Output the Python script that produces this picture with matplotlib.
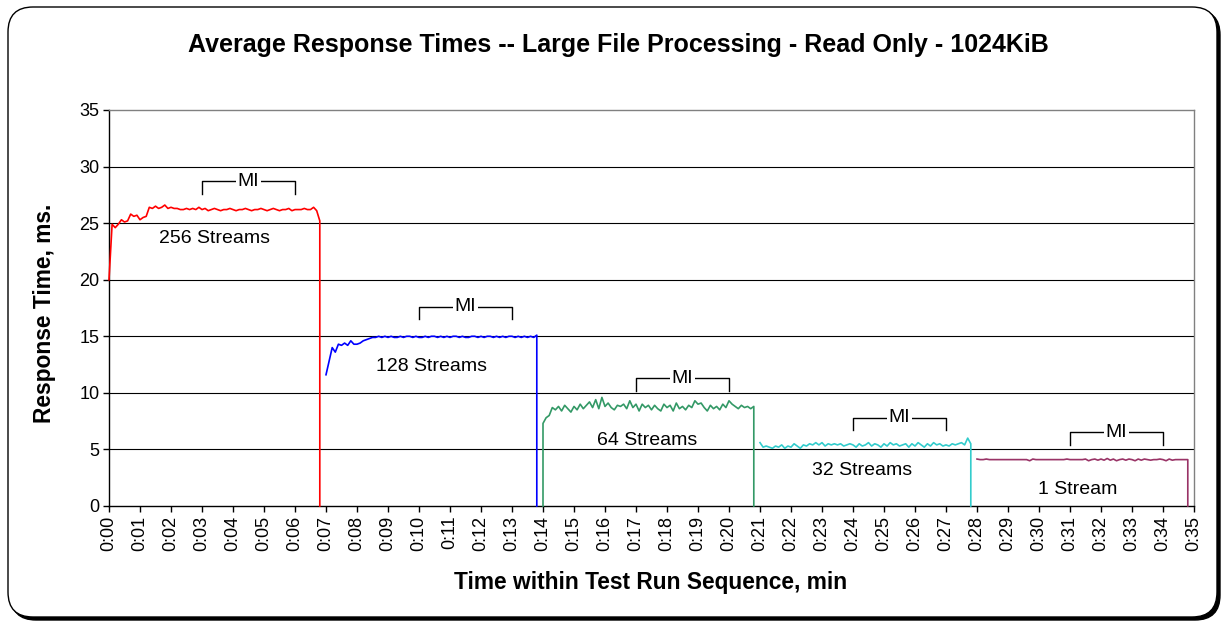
import numpy as np
import matplotlib
matplotlib.use('Agg')
import matplotlib.pyplot as plt
from matplotlib.patches import FancyBboxPatch
from matplotlib.transforms import IdentityTransform

plt.rcParams['font.family'] = ['Liberation Sans', 'DejaVu Sans']

# ---- data (minutes, ms) ----
step = 0.1
series_names = ['256 Streams', '128 Streams', '64 Streams', '32 Streams', '1 Stream']
series_colors = ['#FF0000', '#0000FF', '#339966', '#33CCCC', '#993366']
series_start = [0.0, 7.0, 14.0, 21.0, 28.0]
series_rise_from_zero = [False, False, True, False, False]

rt_256 = [20.0, 24.9, 24.6, 24.9, 25.3, 25.1, 25.2, 25.8, 25.6, 25.7,
          25.3, 25.5, 25.6, 26.4, 26.3, 26.5, 26.3, 26.4, 26.6, 26.3,
          26.4, 26.3, 26.3, 26.2, 26.2, 26.3, 26.2, 26.3, 26.2, 26.4,
          26.2, 26.3, 26.1, 26.2, 26.3, 26.2, 26.1, 26.2, 26.2, 26.3,
          26.2, 26.1, 26.2, 26.2, 26.3, 26.2, 26.1, 26.2, 26.2, 26.3,
          26.2, 26.1, 26.2, 26.3, 26.2, 26.1, 26.2, 26.2, 26.3, 26.1,
          26.2, 26.2, 26.2, 26.3, 26.2, 26.2, 26.4, 26.1, 25.2]
rt_128 = [11.6, 12.8, 14.0, 13.6, 14.3, 14.2, 14.4, 14.2, 14.6, 14.3,
          14.3, 14.4, 14.6, 14.7, 14.8, 14.9, 14.9, 15.0, 14.9, 15.0,
          14.9, 15.0, 14.9, 14.9, 15.0, 14.9, 15.0, 15.0, 14.9, 15.0,
          14.9, 14.9, 15.0, 14.9, 15.0, 15.0, 14.9, 15.0, 14.9, 15.0,
          14.9, 15.0, 15.0, 14.9, 15.0, 14.9, 14.9, 15.0, 15.0, 14.9,
          15.0, 14.9, 15.0, 15.0, 14.9, 15.0, 14.9, 15.0, 14.9, 15.0,
          15.0, 14.9, 15.0, 14.9, 15.0, 14.9, 15.0, 14.9, 15.1]
rt_64 = [7.3, 7.8, 8.0, 8.7, 8.5, 8.8, 8.4, 8.9, 8.6, 8.3,
         8.8, 8.5, 9.0, 8.6, 8.9, 9.2, 8.7, 9.4, 8.6, 9.6,
         8.8, 9.1, 8.7, 8.5, 8.9, 8.8, 9.0, 8.6, 9.3, 8.7,
         9.0, 8.4, 9.0, 8.7, 8.9, 8.5, 8.9, 8.6, 8.4, 9.0,
         8.7, 8.9, 8.4, 9.1, 8.6, 8.8, 8.5, 8.9, 8.7, 9.3,
         9.0, 9.1, 8.7, 8.4, 8.9, 8.6, 8.8, 8.5, 9.0, 8.7,
         9.3, 9.0, 8.8, 8.6, 8.9, 8.7, 8.8, 8.6, 8.8]
rt_32 = [5.6, 5.2, 5.3, 5.2, 5.1, 5.3, 5.2, 5.4, 5.1, 5.3,
         5.2, 5.5, 5.3, 5.1, 5.4, 5.3, 5.5, 5.4, 5.6, 5.4,
         5.6, 5.3, 5.5, 5.4, 5.5, 5.4, 5.5, 5.3, 5.4, 5.5,
         5.4, 5.2, 5.5, 5.3, 5.4, 5.6, 5.3, 5.5, 5.4, 5.2,
         5.5, 5.3, 5.6, 5.4, 5.5, 5.3, 5.4, 5.5, 5.2, 5.5,
         5.3, 5.6, 5.4, 5.2, 5.5, 5.3, 5.6, 5.4, 5.5, 5.3,
         5.4, 5.3, 5.5, 5.4, 5.5, 5.6, 5.4, 6.0, 5.5]
rt_1 = [4.15, 4.10, 4.10, 4.15, 4.10, 4.10, 4.10, 4.10, 4.10, 4.10,
        4.10, 4.10, 4.10, 4.10, 4.10, 4.10, 4.10, 4.00, 4.15, 4.10,
        4.10, 4.10, 4.10, 4.10, 4.10, 4.10, 4.10, 4.10, 4.10, 4.15,
        4.10, 4.10, 4.10, 4.10, 4.10, 4.15, 4.00, 4.10, 4.15, 4.05,
        4.15, 4.05, 4.20, 4.05, 4.15, 4.00, 4.10, 4.15, 4.05, 4.15,
        4.10, 4.00, 4.15, 4.05, 4.15, 4.10, 4.05, 4.10, 4.10, 4.15,
        4.10, 4.00, 4.15, 4.05, 4.10, 4.10, 4.10, 4.10, 4.10]
series_values = [rt_256, rt_128, rt_64, rt_32, rt_1]

# measurement interval brackets
mi_start = [3, 10, 17, 24, 31]
mi_end = [6, 13, 20, 27, 34]
mi_top = [28.7, 17.6, 11.3, 7.8, 6.5]

# stream label positions
label_x = [3.4, 10.4, 17.35, 24.3, 31.25]
label_y = [23.6, 12.3, 5.8, 3.1, 1.5]

x_ticks = list(range(0, 36))
x_tick_labels = ['0:%02d' % m for m in x_ticks]
y_ticks = [0, 5, 10, 15, 20, 25, 30, 35]

# ---- figure ----
fig = plt.figure(figsize=(12.23, 6.23), dpi=100)
fig.patch.set_facecolor('white')

# rounded frame with shadow (pixel coordinates)
shadow = FancyBboxPatch((11, 3), 1209, 610, boxstyle='round,pad=0,rounding_size=25',
                        transform=IdentityTransform(), facecolor='black', edgecolor='black',
                        linewidth=1, zorder=-10)
frame = FancyBboxPatch((8, 6), 1209, 610, boxstyle='round,pad=0,rounding_size=25',
                       transform=IdentityTransform(), facecolor='white', edgecolor='black',
                       linewidth=1, zorder=-9)
fig.patches.append(shadow)
fig.patches.append(frame)

ax = fig.add_axes([109 / 1223, 1 - 506 / 623, 1085 / 1223, 396 / 623])
ax.set_facecolor('white')

for name, color, t0, vals, rise in zip(series_names, series_colors, series_start,
                                       series_values, series_rise_from_zero):
    v = np.array(vals, dtype=float)
    t = np.round(t0 + step * np.arange(len(v)), 3)
    t = np.append(t, t[-1])
    v = np.append(v, 0.0)
    if rise:
        t = np.insert(t, 0, t[0])
        v = np.insert(v, 0, 0.0)
    ax.plot(t, v, color=color, linewidth=1.2, zorder=3, clip_on=False)

for s, e, top in zip(mi_start, mi_end, mi_top):
    ax.plot([s, s, e, e], [top - 1.1, top, top, top - 1.1], color='black',
            linewidth=1.0, zorder=4)
    ax.text((s + e) / 2, top, 'MI', ha='center', va='center', fontsize=14,
            bbox=dict(facecolor='white', edgecolor='none', pad=1.5), zorder=5)

for name, lx, ly in zip(series_names, label_x, label_y):
    ax.text(lx, ly, name, ha='center', va='center', fontsize=14, zorder=5)

ax.set_xlim(0, 35)
ax.set_ylim(0, 35)
for yv in y_ticks[1:-1]:
    ax.axhline(yv, color='black', linewidth=0.8, zorder=1)

ax.set_xticks(x_ticks)
ax.set_xticklabels(x_tick_labels, rotation=90, fontsize=13)
ax.set_yticks(y_ticks)
ax.set_yticklabels([str(v) for v in y_ticks], fontsize=13)
ax.tick_params(axis='both', direction='out', length=4, width=1, color='black', pad=3)

ax.spines['left'].set_color('black')
ax.spines['bottom'].set_color('black')
ax.spines['top'].set_color('#808080')
ax.spines['right'].set_color('#808080')
for sp in ax.spines.values():
    sp.set_linewidth(1)

fig.text(618 / 1223, 1 - 45 / 623,
         'Average Response Times -- Large File Processing - Read Only - 1024KiB',
         ha='center', va='center', fontsize=18, fontweight='bold')
fig.text(45 / 1223, 1 - 313 / 623, 'Response Time, ms.', rotation=90,
         ha='center', va='center', fontsize=16.4, fontweight='bold')
fig.text(651 / 1223, 1 - 583 / 623, 'Time within Test Run Sequence, min',
         ha='center', va='center', fontsize=16.4, fontweight='bold')

fig.savefig('out.png', dpi=100, facecolor='white')
